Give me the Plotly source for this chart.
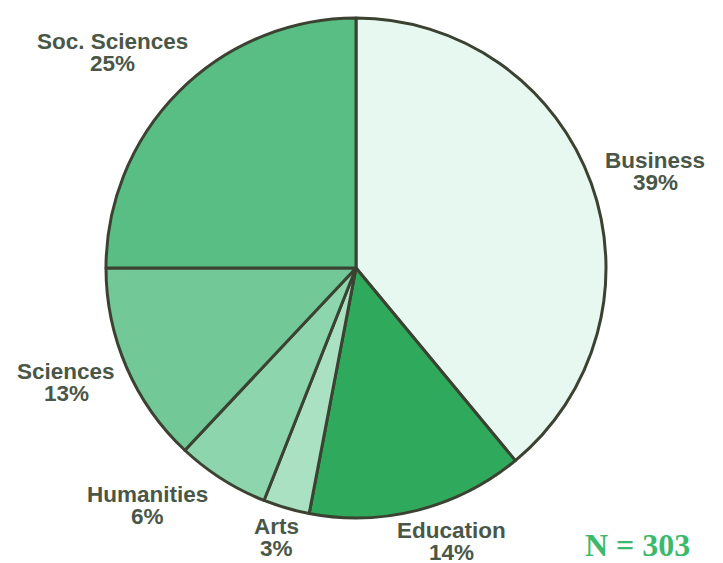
import plotly.graph_objects as go

categories = ["Business", "Education", "Arts", "Humanities", "Sciences", "Soc. Sciences"]
values = [39, 14, 3, 6, 13, 25]
colors = ["#e6f8f0", "#2faa5c", "#a9e1c2", "#8dd5ad", "#72c997", "#59be83"]
total_n = 303

# label positions in pixels (x center, y of first line)
label_pos = {
    "Business": (655, 160),
    "Education": (451, 530),
    "Arts": (276, 526),
    "Humanities": (147, 494),
    "Sciences": (66, 371),
    "Soc. Sciences": (112, 42),
}

W, H = 723, 563

fig = go.Figure(go.Pie(
    labels=categories,
    values=values,
    sort=False,
    direction="clockwise",
    rotation=0,
    marker=dict(colors=colors, line=dict(color="#3b4232", width=3)),
    textinfo="none",
    hoverinfo="label+percent",
    domain=dict(x=[106 / W, 606 / W], y=[1 - 519 / H, 1 - 17 / H]),
    showlegend=False,
))

annotations = []
font = dict(family="Liberation Sans, Arial, sans-serif", size=22.5, color="#4a5747")
for cat, val in zip(categories, values):
    x, y = label_pos[cat]
    annotations.append(dict(x=x / W, y=1 - y / H, xref="paper", yref="paper",
                            text=f"<b>{cat}</b>", showarrow=False, font=font,
                            xanchor="center", yanchor="middle"))
    annotations.append(dict(x=x / W, y=1 - (y + 22) / H, xref="paper", yref="paper",
                            text=f"<b>{val}%</b>", showarrow=False, font=font,
                            xanchor="center", yanchor="middle"))

annotations.append(dict(x=637 / W, y=1 - 545 / H, xref="paper", yref="paper",
                        text=f"<b>N = {total_n}</b>", showarrow=False,
                        font=dict(family="Liberation Serif, Times New Roman, serif", size=32, color="#3cb96b"),
                        xanchor="center", yanchor="middle"))

fig.update_layout(
    width=W, height=H,
    margin=dict(l=0, r=0, t=0, b=0),
    paper_bgcolor="white",
    plot_bgcolor="white",
    annotations=annotations,
)

fig.write_html("out.html", config={"displayModeBar": False},
               post_script="document.body.style.margin='0';document.body.style.overflow='hidden';")
